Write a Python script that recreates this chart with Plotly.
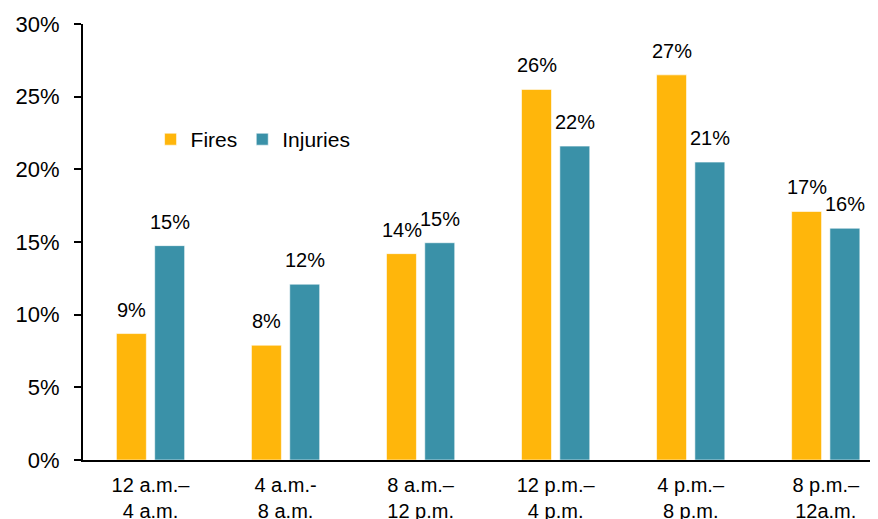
import plotly.graph_objects as go

categories = ["12 a.m.–<br>4 a.m.", "4 a.m.-<br>8 a.m.", "8 a.m.–<br>12 p.m.",
              "12 p.m.–<br>4 p.m.", "4 p.m.–<br>8 p.m.", "8 p.m.–<br>12a.m."]
fires = [8.7, 7.9, 14.2, 25.5, 26.5, 17.1]
injuries = [14.75, 12.1, 14.95, 21.6, 20.5, 15.95]
fires_labels = ["9%", "8%", "14%", "26%", "27%", "17%"]
injuries_labels = ["15%", "12%", "15%", "22%", "21%", "16%"]
y_ticks = [0, 5, 10, 15, 20, 25, 30]

ORANGE = "#FFB60B"
TEAL = "#3A91A8"
FONT = "Liberation Sans, Arial, sans-serif"

fig = go.Figure()
fig.add_trace(go.Bar(name="Fires", x=categories, y=fires, marker_color=ORANGE,
                     marker_line=dict(color="rgba(255,255,255,0.6)", width=1)))
fig.add_trace(go.Bar(name="Injuries", x=categories, y=injuries, marker_color=TEAL,
                     marker_line=dict(color="rgba(255,255,255,0.6)", width=1)))

annotations = []
for i, c in enumerate(categories):
    annotations.append(dict(x=c, y=fires[i], text=fires_labels[i], showarrow=False,
                            xref="x", yref="y", xanchor="center", yanchor="bottom",
                            xshift=-19, yshift=11, font=dict(size=20, color="#000", family=FONT)))
    annotations.append(dict(x=c, y=injuries[i], text=injuries_labels[i], showarrow=False,
                            xref="x", yref="y", xanchor="center", yanchor="bottom",
                            xshift=19, yshift=11, font=dict(size=20, color="#000", family=FONT)))

# page body has an 8px margin, so the figure is offset by (8, 8)
fig.update_layout(
    width=870, height=511,
    margin=dict(l=75, r=0, t=16, b=59),
    paper_bgcolor="white", plot_bgcolor="white",
    barmode="group", bargap=0.433, bargroupgap=0.217,
    font=dict(family=FONT, color="#000"),
    showlegend=True,
    legend=dict(orientation="h", x=0.085, y=0.735, xanchor="left", yanchor="middle",
                font=dict(size=21, family=FONT, color="#000"),
                bgcolor="rgba(0,0,0,0)"),
    annotations=annotations,
)
fig.update_xaxes(range=[-0.5, 5.387], showline=True, linecolor="#000", linewidth=2,
                 ticks="", tickfont=dict(size=20, family=FONT, color="#000"),
                 ticklabelstandoff=6, automargin=False,
                 showgrid=False, zeroline=False, fixedrange=True)
fig.update_yaxes(range=[0, 30], tickvals=y_ticks, ticktext=[f"{v}%" for v in y_ticks],
                 showline=True, linecolor="#000", linewidth=2,
                 ticks="outside", ticklen=7, tickwidth=1.5, tickcolor="#000",
                 ticklabelstandoff=10, automargin=False,
                 tickfont=dict(size=22, family=FONT, color="#000"),
                 showgrid=False, zeroline=False, fixedrange=True)

fig.write_html("out.html")
